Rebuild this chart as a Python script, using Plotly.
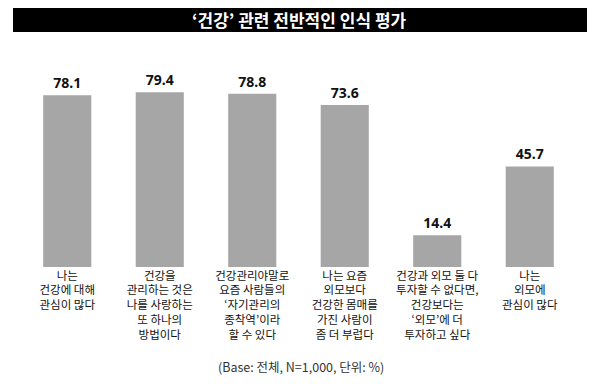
import plotly.graph_objects as go

categories = [
    "나는<br>건강에 대해<br>관심이 많다",
    "건강을<br>관리하는 것은<br>나를 사랑하는<br>또 하나의<br>방법이다",
    "건강관리야말로<br>요즘 사람들의<br>‘자기관리의<br>종착역’이라<br>할 수 있다",
    "나는 요즘<br>외모보다<br>건강한 몸매를<br>가진 사람이<br>좀 더 부럽다",
    "건강과 외모 둘 다<br>투자할 수 없다면,<br>건강보다는<br>‘외모’에 더<br>투자하고 싶다",
    "나는<br>외모에<br>관심이 많다",
]
values = [78.1, 79.4, 78.8, 73.6, 14.4, 45.7]
title_text = "‘건강’ 관련 전반적인 인식 평가"
footnote = "(Base: 전체, N=1,000, 단위: %)"

# page body has an 8px default margin; figure sized to fill the 600x384 window
OFF = 8
W, H = 600 - OFF, 384 - OFF
# plot area in page pixels: x 21..576, y 47..267
ml = 21 - OFF
mr = W - (576 - OFF)
mt = 47 - OFF
mb = H - (267 - OFF)
pw, ph = W - ml - mr, H - mt - mb

def px_to_paper_x(px):
    return (px - OFF - ml) / pw

def px_to_paper_y(py):
    return (H - mb - (py - OFF)) / ph

font_family = "Noto Sans CJK KR, Noto Sans, sans-serif"

fig = go.Figure(go.Bar(
    x=list(range(len(categories))),
    y=values,
    marker=dict(color="#a6a6a6", line=dict(width=0)),
    text=[f"{v:.1f}" for v in values],
    textposition="outside",
    textfont=dict(size=14, color="#111111", family="Noto Sans, sans-serif", weight="bold"),
    cliponaxis=False,
))

fig.update_layout(
    template="none",
    width=W, height=H,
    margin=dict(l=ml, r=mr, t=mt, b=mb, autoexpand=False),
    paper_bgcolor="white", plot_bgcolor="white",
    bargap=0.48,
    showlegend=False,
    font=dict(family=font_family),
    xaxis=dict(
        tickmode="array",
        tickvals=list(range(len(categories))),
        ticktext=categories,
        tickfont=dict(size=11.5, color="#111111", family=font_family),
        showgrid=False, zeroline=False, showline=False, ticks="",
        automargin=False,
        range=[-0.5, len(categories) - 0.5],
    ),
    yaxis=dict(
        range=[0, 100], visible=False, showgrid=False, zeroline=False,
        automargin=False,
    ),
    shapes=[dict(
        type="rect", xref="paper", yref="paper",
        x0=px_to_paper_x(13), x1=px_to_paper_x(587),
        y0=px_to_paper_y(32), y1=px_to_paper_y(8),
        fillcolor="black", line=dict(width=0), layer="below",
    )],
    annotations=[
        dict(
            text=title_text, xref="paper", yref="paper",
            x=px_to_paper_x(299), y=px_to_paper_y(20),
            xanchor="center", yanchor="middle", showarrow=False,
            font=dict(size=17, color="white", family=font_family, weight="bold"),
        ),
        dict(
            text=footnote, xref="paper", yref="paper",
            x=px_to_paper_x(301), y=px_to_paper_y(366),
            xanchor="center", yanchor="middle", showarrow=False,
            font=dict(size=12.5, color="#333333", family=font_family),
        ),
    ],
)

fig.write_html("out.html")
